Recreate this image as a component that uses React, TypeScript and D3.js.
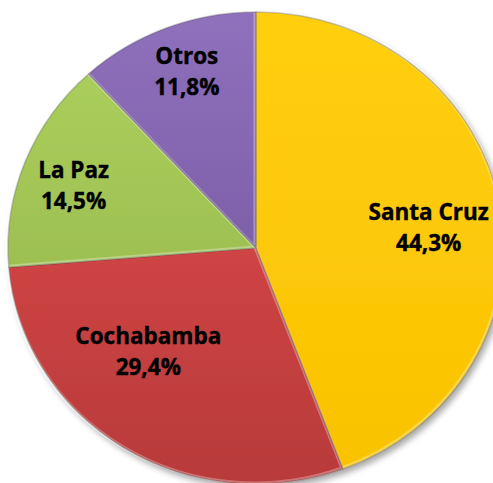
import React from "react";
import * as d3 from "d3";

const categories = ["Santa Cruz", "Cochabamba", "La Paz", "Otros"];
const values = [44.3, 29.4, 14.5, 11.8];
const valueLabels = ["44,3%", "29,4%", "14,5%", "11,8%"];

const W = 493;
const H = 483;
const cx = 256;
const cy = 248;
const R = 236;
const RX = 248;

const colorsTop = ["#FFCF10", "#E64E4E", "#AED25E", "#8F70BC"];
const colorsBottom = ["#FAC200", "#B83A3A", "#8FB048", "#6D5096"];
const labelFrac = [0.72, 0.66, 0.79, 0.77];
const labelNudge: [number, number][] = [
  [-3, 10],
  [-20, -28],
  [0, 6],
  [0, -7],
];

export default function App() {
  const pie = d3
    .pie<number>()
    .sort(null)
    .value((d) => d);
  const arcs = pie(values);
  const arc = d3.arc<d3.PieArcDatum<number>>().innerRadius(0).outerRadius(R);
  const sx = RX / R;

  return (
    <svg
      width={W}
      height={H}
      style={{ position: "absolute", left: 0, top: 0, background: "#fff" }}
    >
      <defs>
        <filter id="shadow" x="-10%" y="-10%" width="130%" height="130%">
          <feGaussianBlur in="SourceAlpha" stdDeviation="3" />
          <feOffset dx="3" dy="4" result="b" />
          <feComponentTransfer>
            <feFuncA type="linear" slope="0.35" />
          </feComponentTransfer>
          <feMerge>
            <feMergeNode />
            <feMergeNode in="SourceGraphic" />
          </feMerge>
        </filter>
        {categories.map((c, i) => (
          <linearGradient
            key={c}
            id={`g${i}`}
            gradientUnits="userSpaceOnUse"
            x1={0}
            y1={-R}
            x2={0}
            y2={R}
          >
            <stop offset="0%" stopColor={colorsTop[i]} />
            <stop offset="100%" stopColor={colorsBottom[i]} />
          </linearGradient>
        ))}
      </defs>
      <g transform={`translate(${cx},${cy}) scale(${sx},1)`} filter="url(#shadow)">
        {arcs.map((a, i) => (
          <g key={categories[i]}>
            <path d={arc(a) || ""} fill={`url(#g${i})`} />
            <path
              d={arc(a) || ""}
              fill="none"
              stroke="#ffffff"
              strokeOpacity={0.3}
              strokeWidth={3}
              transform="translate(-1,-1)"
            />
            <path
              d={arc(a) || ""}
              fill="none"
              stroke="#000"
              strokeOpacity={0.2}
              strokeWidth={1.5}
            />
          </g>
        ))}
      </g>
      {arcs.map((a, i) => {
        const r = R * labelFrac[i];
        const [px, py] = d3
          .arc<d3.PieArcDatum<number>>()
          .innerRadius(r)
          .outerRadius(r)
          .centroid(a);
        const x = cx + px * sx + labelNudge[i][0];
        const y = cy + py + labelNudge[i][1];
        return (
          <text
            key={categories[i]}
            x={x}
            y={y}
            textAnchor="middle"
            fontFamily="'Open Sans', sans-serif"
            fontWeight="bold"
            fontSize={22.5}
            fill="#000"
            stroke="#000"
            strokeWidth={0.4}
          >
            <tspan x={x} dy={-8}>
              {categories[i]}
            </tspan>
            <tspan x={x} dy={31}>
              {valueLabels[i]}
            </tspan>
          </text>
        );
      })}
    </svg>
  );
}
